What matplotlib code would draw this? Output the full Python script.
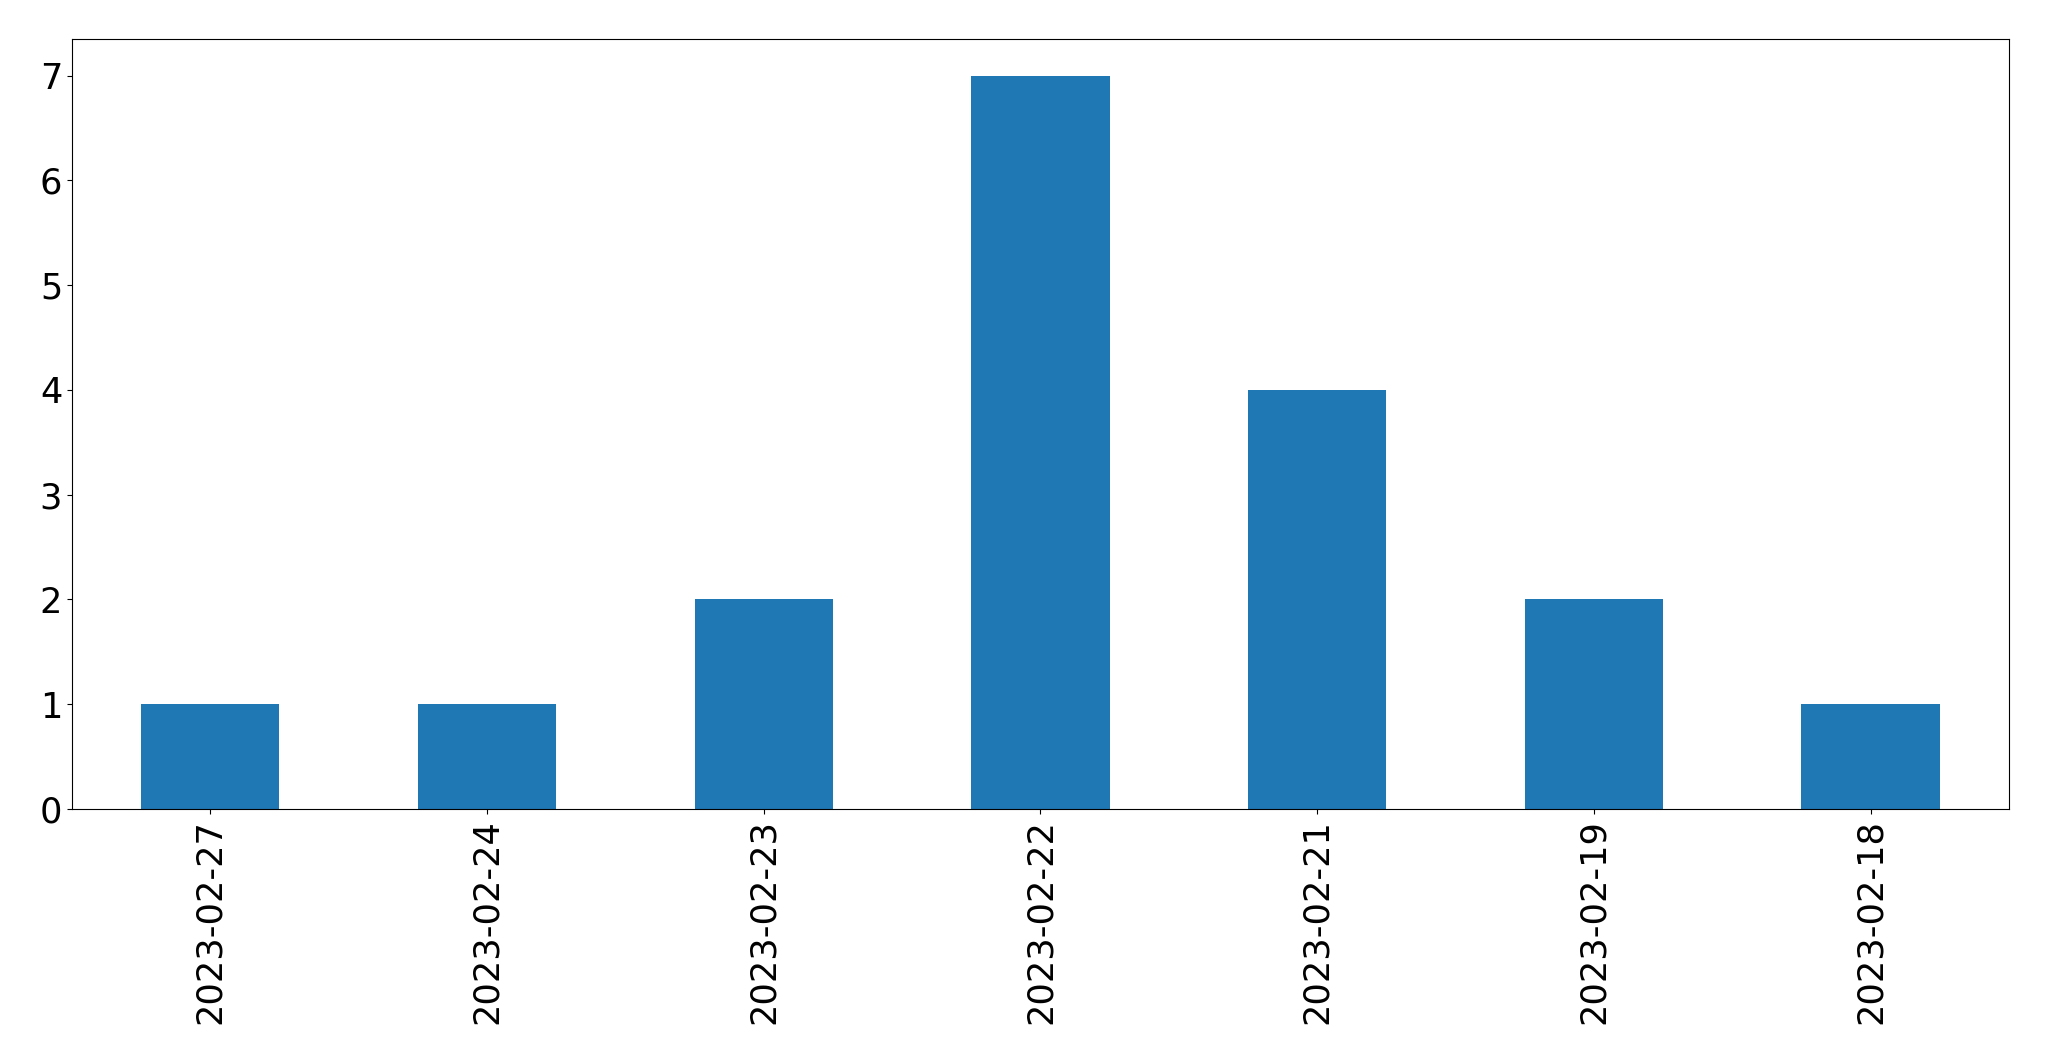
import matplotlib
matplotlib.use('Agg')
import matplotlib.pyplot as plt
import pandas as pd

dates = ['2023-02-27', '2023-02-24', '2023-02-23', '2023-02-22',
         '2023-02-21', '2023-02-19', '2023-02-18']
counts = [1, 1, 2, 7, 4, 2, 1]

plt.rcParams['font.size'] = 25.3

s = pd.Series(counts, index=dates)
fig = plt.figure(figsize=(20.49, 10.61), dpi=100)
ax = fig.add_subplot(111)
s.plot(kind='bar', ax=ax, color='#1f77b4')
fig.subplots_adjust(left=0.0351, right=0.9805, top=0.9632, bottom=0.2375)
fig.savefig('out.png', dpi=100)
